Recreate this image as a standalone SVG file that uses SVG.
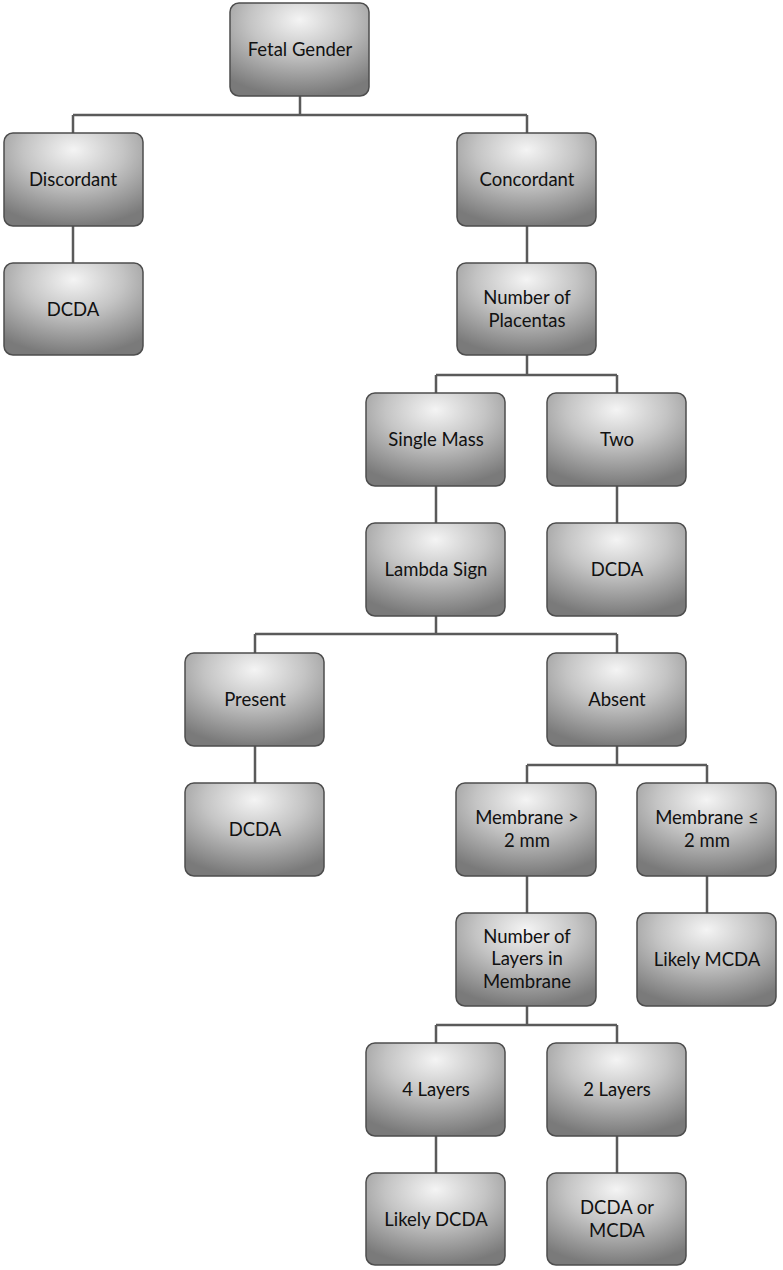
<svg xmlns="http://www.w3.org/2000/svg" width="783" height="1270" viewBox="0 0 783 1270">
<style>
.box{fill:url(#g);stroke:#4d4d4d;stroke-width:1.5}
.t{font-family:Lato,"Open Sans",sans-serif;font-size:18.5px;fill:#111;text-anchor:middle}
.c{fill:none;stroke:#5a5a5a;stroke-width:2.5}
</style>
<defs>
<radialGradient id="g" cx="50%" cy="20%" r="80%" fx="50%" fy="18%">
<stop offset="0" stop-color="#f4f4f4"/>
<stop offset="0.45" stop-color="#c4c4c4"/>
<stop offset="1" stop-color="#7a7a7a"/>
</radialGradient>
</defs>
<g id="connectors">
<path class="c" d="M300 96V115M73 115H527M73 115V133M527 115V133"/>
<path class="c" d="M73 226V263M527 226V263"/>
<path class="c" d="M527 355V375M436 375H617M436 375V393M617 375V393"/>
<path class="c" d="M436 486V523M617 486V523"/>
<path class="c" d="M436 616V634M255 634H617M255 634V653M617 634V653"/>
<path class="c" d="M255 746V783M617 746V765M527 765H707M527 765V783M707 765V783"/>
<path class="c" d="M527 876V913M707 876V913"/>
<path class="c" d="M527 1006V1025M436 1025H617M436 1025V1043M617 1025V1043"/>
<path class="c" d="M436 1136V1173M617 1136V1173"/>
</g>
<g id="n1"><rect class="box" x="230" y="3" width="139" height="93" rx="9"/><text class="t" x="300" y="56">Fetal Gender</text></g>
<g id="n2"><rect class="box" x="4" y="133" width="139" height="93" rx="9"/><text class="t" x="73" y="186">Discordant</text></g>
<g id="n3"><rect class="box" x="457" y="133" width="139" height="93" rx="9"/><text class="t" x="527" y="186">Concordant</text></g>
<g id="n4"><rect class="box" x="4" y="263" width="139" height="92" rx="9"/><text class="t" x="73" y="316">DCDA</text></g>
<g id="n5"><rect class="box" x="457" y="263" width="139" height="92" rx="9"/><text class="t" x="527" y="304">Number of</text><text class="t" x="527" y="327">Placentas</text></g>
<g id="n6"><rect class="box" x="366" y="393" width="139" height="93" rx="9"/><text class="t" x="436" y="446">Single Mass</text></g>
<g id="n7"><rect class="box" x="547" y="393" width="139" height="93" rx="9"/><text class="t" x="617" y="446">Two</text></g>
<g id="n8"><rect class="box" x="366" y="523" width="139" height="93" rx="9"/><text class="t" x="436" y="576">Lambda Sign</text></g>
<g id="n9"><rect class="box" x="547" y="523" width="139" height="93" rx="9"/><text class="t" x="617" y="576">DCDA</text></g>
<g id="n10"><rect class="box" x="185" y="653" width="139" height="93" rx="9"/><text class="t" x="255" y="706">Present</text></g>
<g id="n11"><rect class="box" x="547" y="653" width="139" height="93" rx="9"/><text class="t" x="617" y="706">Absent</text></g>
<g id="n12"><rect class="box" x="185" y="783" width="139" height="93" rx="9"/><text class="t" x="255" y="836">DCDA</text></g>
<g id="n13"><rect class="box" x="456" y="783" width="140" height="93" rx="9"/><text class="t" x="527" y="824">Membrane &gt;</text><text class="t" x="527" y="847">2 mm</text></g>
<g id="n14"><rect class="box" x="637" y="783" width="139" height="93" rx="9"/><text class="t" x="707" y="824">Membrane ≤</text><text class="t" x="707" y="847">2 mm</text></g>
<g id="n15"><rect class="box" x="456" y="913" width="140" height="93" rx="9"/><text class="t" x="527" y="943">Number of</text><text class="t" x="527" y="965">Layers in</text><text class="t" x="527" y="988">Membrane</text></g>
<g id="n16"><rect class="box" x="637" y="913" width="139" height="93" rx="9"/><text class="t" x="707" y="966">Likely MCDA</text></g>
<g id="n17"><rect class="box" x="366" y="1043" width="139" height="93" rx="9"/><text class="t" x="436" y="1096">4 Layers</text></g>
<g id="n18"><rect class="box" x="547" y="1043" width="139" height="93" rx="9"/><text class="t" x="617" y="1096">2 Layers</text></g>
<g id="n19"><rect class="box" x="366" y="1173" width="139" height="92" rx="9"/><text class="t" x="436" y="1226">Likely DCDA</text></g>
<g id="n20"><rect class="box" x="547" y="1173" width="139" height="92" rx="9"/><text class="t" x="617" y="1214">DCDA or</text><text class="t" x="617" y="1237">MCDA</text></g>
</svg>
